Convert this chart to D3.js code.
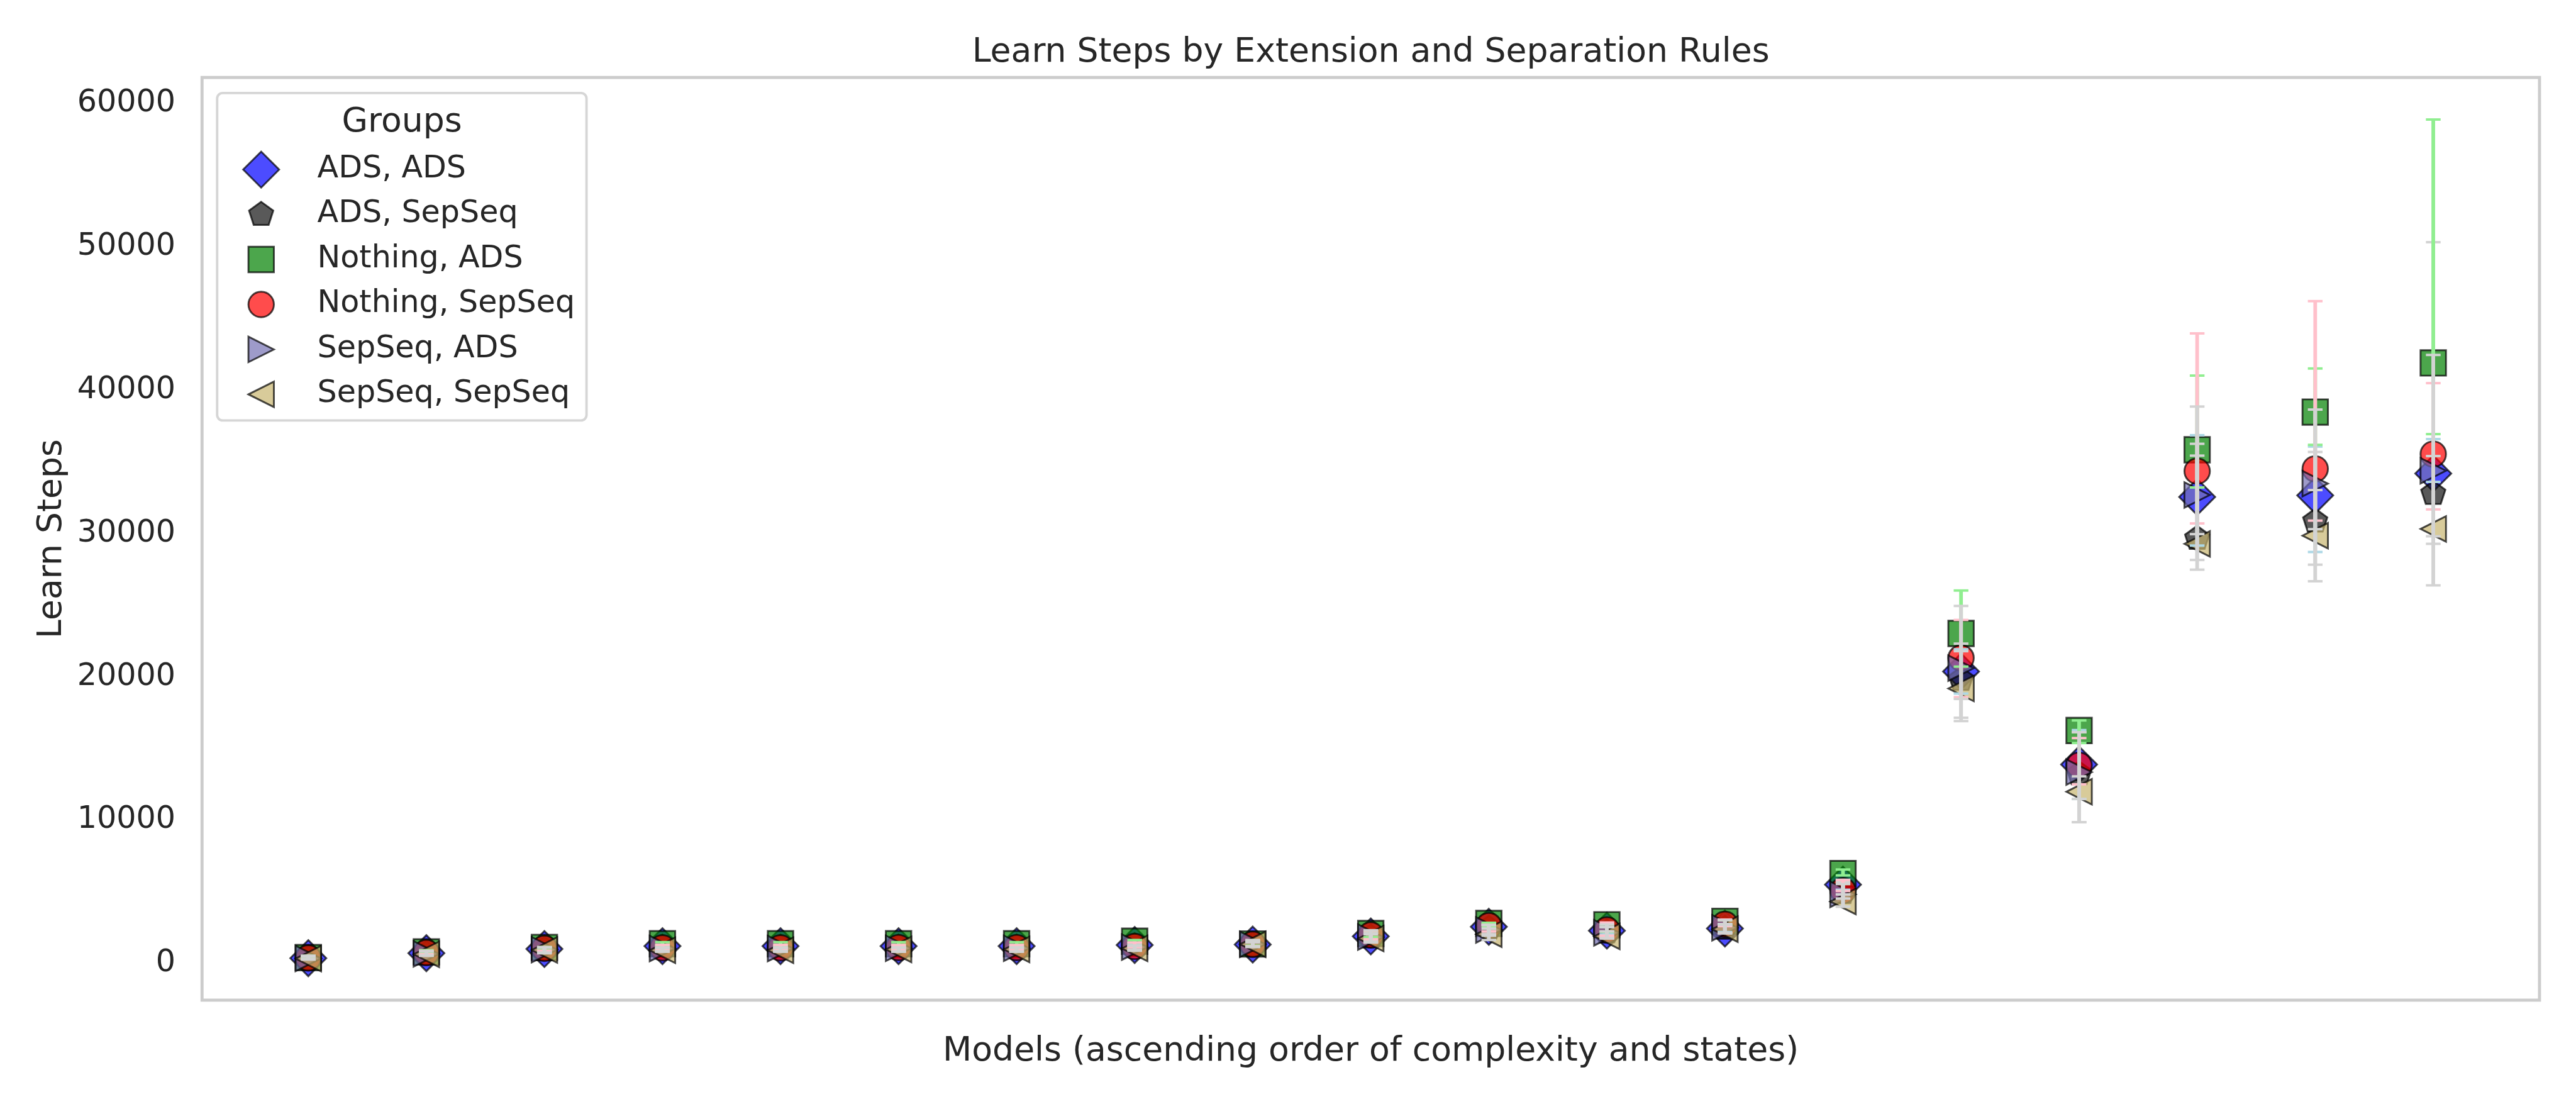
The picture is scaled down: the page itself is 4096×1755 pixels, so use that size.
<!DOCTYPE html>
<html><head><meta charset="utf-8">
<script src="https://cdn.jsdelivr.net/npm/d3@7"></script>
<style>html,body{margin:0;padding:0;background:#fff;overflow:hidden}</style>
</head><body>
<svg id="chart"></svg>
<script>
// ---------------- DATA ----------------
const modelIndex = [0,1,2,3,4,5,6,7,8,9,10,11,12,13,14,15,16,17,18];
const groupNames = ["ADS, ADS","ADS, SepSeq","Nothing, ADS","Nothing, SepSeq","SepSeq, ADS","SepSeq, SepSeq"];
const yTickValues = [0,10000,20000,30000,40000,50000,60000];

const mean_ADS_ADS = [130,480,770,970,970,970,970,1050,1080,1650,2320,2050,2200,5260,20130,13640,32300,32410,33940];
const lo_ADS_ADS   = [60,380,650,800,800,800,800,900,950,1400,2000,1800,1950,4900,18588,11234,28911,28462,33352];
const hi_ADS_ADS   = [200,600,880,1000,1000,1000,1000,1150,1250,1900,2550,2300,2500,5600,21676,16039,36608,35815,36338];

const mean_ADS_SepSeq = [120,450,740,900,900,900,900,1000,1050,1600,2200,1950,2200,4700,19560,12980,29400,30600,32530];
const lo_ADS_SepSeq   = [40,300,520,600,600,600,600,700,920,1300,1800,1600,1865,4291,16668,9617,27230,27577,26135];
const hi_ADS_SepSeq   = [280,610,880,870,870,880,880,1000,1300,1900,2440,2300,2500,5433,22071,15889,36008,35439,50071];

const mean_Nothing_ADS = [170,570,880,1140,1140,1140,1140,1310,1120,1850,2550,2460,2700,6030,22780,16010,35590,38220,41650];
const lo_Nothing_ADS   = [80,450,700,1030,1030,1050,1050,1220,1000,1600,2300,1975,2400,5904,20467,15135,32962,35935,36684];
const hi_Nothing_ADS   = [290,690,910,1250,1250,1250,1250,1400,1300,2050,2600,2480,2780,6315,25775,16714,40766,41262,58627];

const mean_Nothing_SepSeq = [150,520,820,850,850,870,870,950,1100,1750,2400,2100,2500,4850,21070,13590,34100,34260,35290];
const lo_Nothing_SepSeq   = [60,400,650,700,700,720,720,900,950,1450,2000,1700,2366,4817,18336,12256,30455,30652,31431];
const hi_Nothing_SepSeq   = [260,640,900,1060,1060,1050,1050,1220,1350,2050,2450,2620,2823,5574,23722,15483,43709,45959,40240];

const mean_SepSeq_ADS = [110,430,720,800,800,820,820,900,1100,1600,2100,1900,2250,4580,20360,13110,32440,33230,34130];
const lo_SepSeq_ADS   = [50,320,520,620,620,600,600,700,910,1250,1700,1510,1900,3722,18212,11234,29707,30053,29557];
const hi_SepSeq_ADS   = [250,600,880,870,870,880,880,1010,1400,2080,2440,2480,2780,5300,24700,15889,38606,38396,42207];

const mean_SepSeq_SepSeq = [100,400,700,680,680,740,740,810,1100,1500,1800,1650,2150,4080,18940,11740,29030,29600,30070];
const lo_SepSeq_SepSeq   = [40,300,470,580,580,580,580,650,950,1220,1395,1510,1865,3722,16900,9617,27906,26422,29031];
const hi_SepSeq_SepSeq   = [300,620,880,860,860,860,860,1000,1250,1800,2200,2000,2450,4577,21544,12812,35183,32783,35153];

// ---------------- STYLE ----------------
const seriesStyle = [
  {shape:"diamond",  fill:"#0000ff", ecolor:"#add8e6"},
  {shape:"pentagon", fill:"#131313", ecolor:"#d3d3d3"},
  {shape:"square",   fill:"#008000", ecolor:"#90ee90"},
  {shape:"circle",   fill:"#ff0000", ecolor:"#ffc0cb"},
  {shape:"tri_right",fill:"#7570b3", ecolor:"#d3d3d3"},
  {shape:"tri_left", fill:"#c7b56f", ecolor:"#d3d3d3"}
];
const seriesData = [
  {mean:mean_ADS_ADS, lo:lo_ADS_ADS, hi:hi_ADS_ADS},
  {mean:mean_ADS_SepSeq, lo:lo_ADS_SepSeq, hi:hi_ADS_SepSeq},
  {mean:mean_Nothing_ADS, lo:lo_Nothing_ADS, hi:hi_Nothing_ADS},
  {mean:mean_Nothing_SepSeq, lo:lo_Nothing_SepSeq, hi:hi_Nothing_SepSeq},
  {mean:mean_SepSeq_ADS, lo:lo_SepSeq_ADS, hi:hi_SepSeq_ADS},
  {mean:mean_SepSeq_SepSeq, lo:lo_SepSeq_SepSeq, hi:hi_SepSeq_SepSeq}
];

const FONT = "'DejaVu Sans', sans-serif";
const TXT = "#262626";
const S = 41.5;      // marker size (px, reference scale)
const ALPHA = 0.7;

function markerPath(shape, s) {
  const h = s / 2;
  switch (shape) {
    case "square": return `M${-h},${-h}L${h},${-h}L${h},${h}L${-h},${h}Z`;
    case "diamond": { const d = s * Math.SQRT2 / 2; return `M0,${-d}L${d},0L0,${d}L${-d},0Z`; }
    case "circle": return `M${h},0A${h},${h} 0 1,1 ${-h},0A${h},${h} 0 1,1 ${h},0Z`;
    case "pentagon": {
      const pts = d3.range(5).map(k => { const a = (-90 + 72 * k) * Math.PI / 180; return [h * Math.cos(a), h * Math.sin(a)]; });
      return "M" + pts.map(p => p.join(",")).join("L") + "Z";
    }
    case "tri_right": return `M${h},0L${-h},${-h}L${-h},${h}Z`;
    case "tri_left": return `M${-h},0L${h},${-h}L${h},${h}Z`;
  }
}

// ---------------- CHART ----------------
const svg = d3.select("#chart")
  .attr("width", 4096).attr("height", 1755)
  .attr("viewBox", "0 0 4200 1800")
  .style("background", "#fff");

svg.append("rect").attr("width", 4200).attr("height", 1800).attr("fill", "#fff");

const AX = {left: 329, right: 4141, top: 126.3, bottom: 1630.7};
const x = d3.scaleLinear().domain([-0.9, 18.9]).range([AX.left, AX.right]);
const y = d3.scaleLinear().domain([-2798, 61561]).range([AX.bottom, AX.top]);

// y axis labels
const yAxis = svg.append("g").attr("transform", `translate(${AX.left},0)`)
  .call(d3.axisLeft(y).tickValues(yTickValues).tickSize(0).tickPadding(43.4).tickFormat(d3.format("d")));
yAxis.select(".domain").remove();
yAxis.selectAll("text")
  .attr("font-family", FONT).attr("font-size", 50.4).attr("fill", TXT)
  .attr("dy", "0.36em");

// scatter markers (drawn below error bars)
const markers = svg.append("g");
seriesData.forEach((sd, i) => {
  const st = seriesStyle[i];
  markers.append("g").selectAll("path").data(modelIndex).join("path")
    .attr("d", markerPath(st.shape, S))
    .attr("transform", d => `translate(${x(d)},${y(sd.mean[d])})`)
    .attr("fill", st.fill).attr("fill-opacity", ALPHA)
    .attr("stroke", "#000").attr("stroke-opacity", ALPHA)
    .attr("stroke-width", 3).attr("stroke-linejoin", "miter");
});

// error bars
const ebars = svg.append("g");
seriesData.forEach((sd, i) => {
  const st = seriesStyle[i];
  const g = ebars.append("g");
  g.selectAll("line.v").data(modelIndex).join("line").attr("class", "v")
    .attr("x1", d => x(d)).attr("x2", d => x(d))
    .attr("y1", d => y(sd.lo[d])).attr("y2", d => y(sd.hi[d]))
    .attr("stroke", st.ecolor).attr("stroke-width", 6);
  ["lo", "hi"].forEach(k => {
    g.selectAll("line.c" + k).data(modelIndex).join("line").attr("class", "c" + k)
      .attr("x1", d => x(d) - 12).attr("x2", d => x(d) + 12)
      .attr("y1", d => y(sd[k][d])).attr("y2", d => y(sd[k][d]))
      .attr("stroke", st.ecolor).attr("stroke-width", 4);
  });
});

// frame (spines)
svg.append("rect")
  .attr("x", AX.left).attr("y", AX.top)
  .attr("width", AX.right - AX.left).attr("height", AX.bottom - AX.top)
  .attr("fill", "none").attr("stroke", "#cccccc").attr("stroke-width", 5);

// title & labels
svg.append("text").attr("x", (AX.left + AX.right) / 2).attr("y", 101)
  .attr("text-anchor", "middle").attr("font-family", FONT).attr("font-size", 55).attr("fill", TXT)
  .text("Learn Steps by Extension and Separation Rules");
svg.append("text").attr("x", (AX.left + AX.right) / 2).attr("y", 1729)
  .attr("text-anchor", "middle").attr("font-family", FONT).attr("font-size", 55).attr("fill", TXT)
  .text("Models (ascending order of complexity and states)");
svg.append("text").attr("transform", `translate(99,${(AX.top + AX.bottom) / 2}) rotate(-90)`)
  .attr("text-anchor", "middle").attr("font-family", FONT).attr("font-size", 55).attr("fill", TXT)
  .text("Learn Steps");

// legend
const lg = svg.append("g");
lg.append("rect").attr("x", 353.6).attr("y", 151.7).attr("width", 602.4).attr("height", 533.8)
  .attr("rx", 9).attr("ry", 9).attr("fill", "#fff").attr("fill-opacity", 0.8)
  .attr("stroke", "#d6d6d6").attr("stroke-width", 4);
lg.append("text").attr("x", 655).attr("y", 214.8).attr("text-anchor", "middle")
  .attr("font-family", FONT).attr("font-size", 55).attr("fill", TXT).text("Groups");
groupNames.forEach((name, i) => {
  const base = 289 + i * 73.3;
  const st = seriesStyle[i];
  lg.append("path").attr("d", markerPath(st.shape, S))
    .attr("transform", `translate(425.4,${base - 12.5})`)
    .attr("fill", st.fill).attr("fill-opacity", ALPHA)
    .attr("stroke", "#000").attr("stroke-opacity", ALPHA).attr("stroke-width", 3);
  lg.append("text").attr("x", 517).attr("y", base)
    .attr("font-family", FONT).attr("font-size", 50.4).attr("fill", TXT).text(name);
});
</script>
</body></html>
